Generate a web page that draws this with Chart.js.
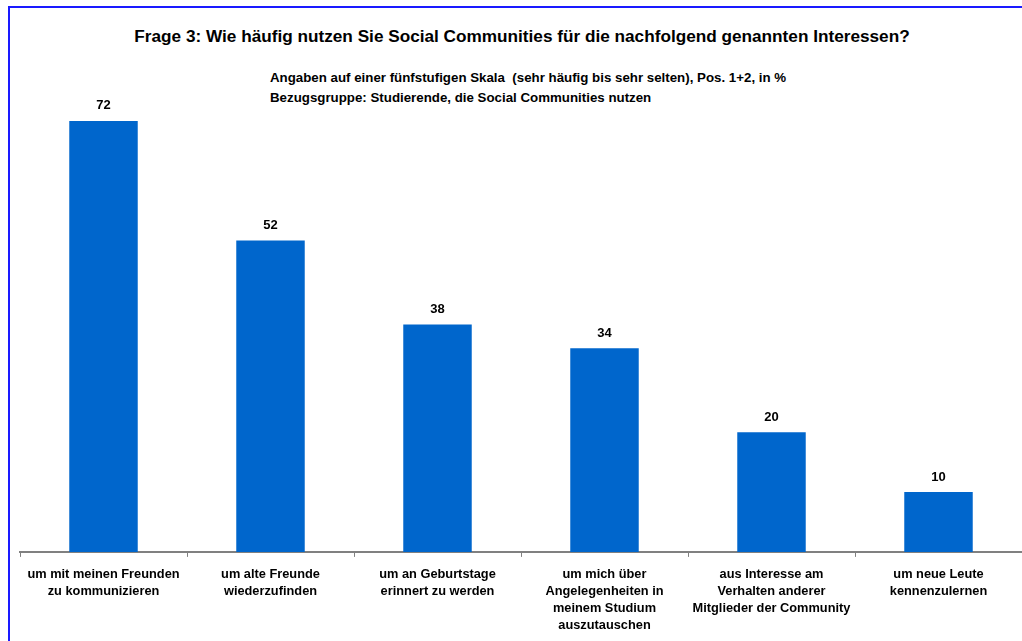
<!DOCTYPE html>
<html>
<head>
<meta charset="utf-8">
<script src="https://cdn.jsdelivr.net/npm/chart.js@4.4.1/dist/chart.umd.min.js"></script>
<style>
  html, body { margin: 0; padding: 0; background: #fff; }
  #wrap { position: relative; width: 1022px; height: 641px; overflow: hidden; font-family: "Liberation Sans", Arial, sans-serif; }
  #frame { position: absolute; left: 8px; top: 6px; width: 1030px; height: 660px; border-top: 2px solid #1a1aff; border-left: 2px solid #1a1aff; }
  #title { position: absolute; left: 0; top: 26px; width: 1044px; text-align: center; font-weight: bold; font-size: 17.2px; color: #000; }
  .sub { position: absolute; left: 270px; font-weight: bold; font-size: 13.3px; color: #000; }
  #box { position: absolute; left: 0; top: 0; width: 1022px; height: 643px; }
</style>
</head>
<body>
<div id="wrap">
  <div id="frame"></div>
  <div id="title">Frage 3: Wie häufig nutzen Sie Social Communities für die nachfolgend genannten Interessen?</div>
  <div class="sub" style="top:70px">Angaben auf einer fünfstufigen Skala&nbsp; (sehr häufig bis sehr selten), Pos. 1+2, in %</div>
  <div class="sub" style="top:90px">Bezugsgruppe: Studierende, die Social Communities nutzen</div>
  <div id="box"><canvas id="chart"></canvas></div>
</div>
<script>
const categories = [
  ["um mit meinen Freunden", "zu kommunizieren"],
  ["um alte Freunde", "wiederzufinden"],
  ["um an Geburtstage", "erinnert zu werden"],
  ["um mich über", "Angelegenheiten in", "meinem Studium", "auszutauschen"],
  ["aus Interesse am", "Verhalten anderer", "Mitglieder der Community"],
  ["um neue Leute", "kennenzulernen"]
];
const values = [72, 52, 38, 34, 20, 10];

const valueLabels = {
  id: "valueLabels",
  afterDatasetsDraw(chart) {
    const ctx = chart.ctx;
    const meta = chart.getDatasetMeta(0);
    ctx.save();
    ctx.font = "bold 13px 'Liberation Sans', Arial, sans-serif";
    ctx.fillStyle = "#000";
    ctx.textAlign = "center";
    ctx.textBaseline = "middle";
    meta.data.forEach((bar, i) => {
      ctx.fillText(values[i], bar.x, bar.y - 15);
    });
    ctx.restore();
  }
};

new Chart(document.getElementById("chart"), {
  type: "bar",
  data: {
    labels: categories,
    datasets: [{
      data: values,
      backgroundColor: "#0066cc",
      borderWidth: 0,
      categoryPercentage: 1,
      barPercentage: 0.41
    }]
  },
  options: {
    responsive: true,
    maintainAspectRatio: false,
    animation: false,
    layout: { padding: { left: 20, right: 0, top: 73, bottom: 0 } },
    plugins: { legend: { display: false }, tooltip: { enabled: false }, title: { display: false } },
    scales: {
      y: { display: false, min: 0, max: 80 },
      x: {
        offset: true,
        grid: { display: true, drawOnChartArea: false, offset: true, color: "#808080", tickLength: 5, lineWidth: 1 },
        border: { display: true, color: "#808080", width: 2 },
        ticks: {
          color: "#000",
          padding: 9,
          maxRotation: 0,
          autoSkip: false,
          font: { family: "'Liberation Sans', Arial, sans-serif", size: 12.8, weight: "bold", lineHeight: 1.33 }
        }
      }
    }
  },
  plugins: [valueLabels]
});
</script>
</body>
</html>
